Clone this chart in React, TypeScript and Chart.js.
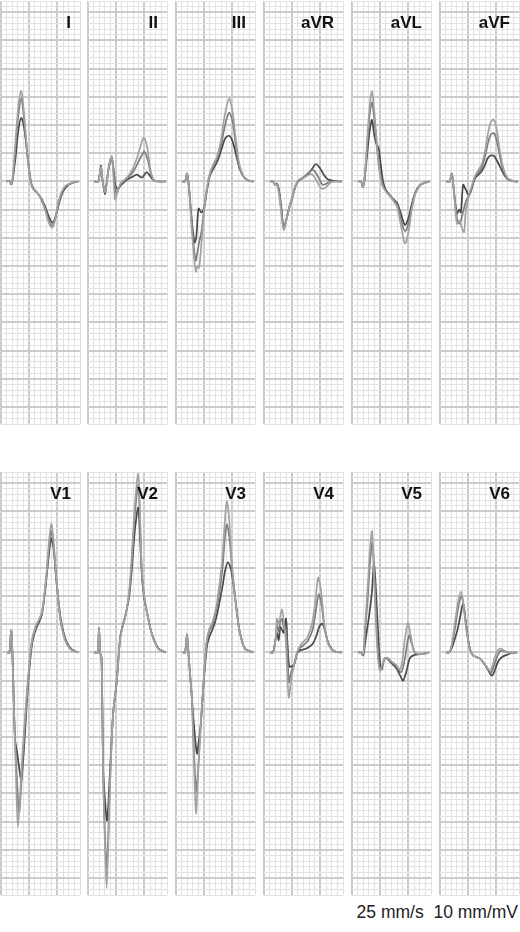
import { useEffect, useRef } from 'react'
import { Chart, registerables } from 'chart.js'

Chart.register(...registerables)

// values in mm of ECG paper: x 1 mm = 40 ms, y 1 mm = 0.1 mV (baseline = 0)
// each lead has three superimposed beats: light, mid, dark

const iLight = [[1.0,0],[1.5,0.1],[1.8,-0.4],[2.1,1],[2.6,7.5],[3.1,13.5],[3.6,16.1],[4.0,13],[4.5,7],[5.1,1],[5.6,-1.2],[6.4,-2],[7.0,-3],[7.8,-5],[8.5,-7.4],[9.1,-8.2],[9.6,-6.8],[10.1,-4],[10.7,-2],[11.4,-0.8],[12.5,-0.3],[13.7,0]]
const iMid = [[1.0,0],[1.5,0.1],[1.8,-0.4],[2.1,0.8],[2.6,6.5],[3.1,12],[3.6,14.7],[4.0,12],[4.5,6.5],[5.1,0.8],[5.6,-1.2],[6.4,-2],[7.0,-2.9],[7.8,-4.7],[8.5,-7],[9.1,-7.9],[9.6,-6.5],[10.2,-3.8],[10.8,-1.9],[11.5,-0.8],[12.5,-0.3],[13.7,0]]
const iDark = [[1.0,0],[1.5,0.1],[1.8,-0.5],[2.1,0.5],[2.6,4.5],[3.1,9.3],[3.6,11.3],[4.1,9.5],[4.7,4.5],[5.3,0],[5.7,-1.2],[6.4,-2],[7.0,-2.8],[7.8,-4.4],[8.5,-6.3],[9.1,-7.3],[9.7,-6.2],[10.3,-3.8],[10.9,-2],[11.6,-0.9],[12.5,-0.3],[13.7,0]]

const iiLight = [[1.1,0],[1.8,0],[2.1,1.5],[2.3,2.5],[2.6,0],[3.0,-1.8],[3.3,-0.5],[3.7,2.8],[4.2,4.5],[4.5,1],[4.8,-3.2],[5.2,-2],[5.7,-0.4],[6.9,0.7],[7.9,2.2],[8.7,4.2],[9.4,6.6],[9.9,7.8],[10.5,6],[11.0,2.5],[11.6,0.3],[12.5,0],[13.8,0]]
const iiMid = [[1.1,0],[1.8,0],[2.1,1.4],[2.3,2.6],[2.6,0],[3.0,-2],[3.3,-0.4],[3.7,2.6],[4.2,4.3],[4.6,0.8],[4.9,-2],[5.3,-1.6],[5.8,-0.5],[6.9,0.5],[7.9,1.6],[8.8,3.2],[9.5,4.6],[10.0,5.3],[10.6,3.8],[11.1,1.5],[11.7,0.2],[12.5,0],[13.8,0]]
const iiDark = [[1.1,0],[1.8,0],[2.1,1.4],[2.3,2.8],[2.6,0],[3.0,-2.2],[3.3,-0.3],[3.7,2.5],[4.2,4.2],[4.6,1.5],[4.9,-0.9],[5.3,-1.3],[5.8,-0.7],[6.9,0.3],[7.8,0.8],[8.7,1.2],[9.5,0.7],[10.4,1.6],[11.0,1.0],[11.7,0.1],[12.5,0],[13.8,0]]

const iiiLight = [[1.1,0],[1.6,0],[1.95,1.4],[2.3,-1],[2.9,-10],[3.5,-16],[3.8,-15],[4.1,-15.3],[4.5,-11],[5.0,-5],[5.5,-1],[6.0,1.5],[6.6,3],[7.3,4.5],[8.0,7.5],[8.6,11.5],[9.4,14.7],[10.0,12.5],[10.6,7.5],[11.2,3.2],[12.0,0.9],[13.0,0.1],[13.7,0]]
const iiiMid = [[1.1,0],[1.6,0],[1.95,1.4],[2.3,-1],[2.9,-9],[3.5,-14],[3.8,-12.5],[4.1,-10.8],[4.5,-9],[5.0,-4.8],[5.5,-1.2],[6.0,1.3],[6.6,2.6],[7.3,4],[8.0,6.5],[8.7,10],[9.4,12.2],[10.0,10.8],[10.6,6.5],[11.2,2.8],[12.0,0.9],[13.0,0.1],[13.7,0]]
const iiiDark = [[1.1,0],[1.6,0],[1.95,1.4],[2.3,-1],[2.8,-7],[3.3,-10.8],[3.6,-9.8],[4.0,-4.8],[4.5,-5.5],[5.0,-4.5],[5.5,-1.5],[6.0,1],[6.6,2.2],[7.3,3.5],[8.0,5.5],[8.7,7.6],[9.4,8.1],[10.0,7.2],[10.7,4.5],[11.3,2.2],[12.0,0.8],[13.0,0.1],[13.7,0]]

const avrLight = [[1.1,0],[1.6,0],[1.95,-0.6],[2.3,-0.6],[2.6,-1.8],[3.0,-5],[3.5,-8.6],[4.0,-6.8],[4.5,-4.6],[5.0,-2.8],[5.6,-0.6],[6.2,0.3],[6.9,0.6],[7.8,1.1],[8.5,1.3],[9.3,0.2],[9.8,-0.8],[10.4,-1.3],[11.0,-1],[11.9,-0.1],[12.8,0],[13.8,0]]
const avrMid = [[1.1,0],[1.6,0],[1.95,-0.6],[2.3,-0.5],[2.6,-1.5],[3.0,-4.5],[3.5,-8.4],[4.0,-6.6],[4.5,-4.5],[5.0,-2.8],[5.6,-0.7],[6.2,0.3],[6.9,0.7],[7.7,1.4],[8.5,2.0],[9.0,1.8],[9.7,0.6],[10.4,-0.6],[11.0,-0.4],[11.9,0],[13.8,0]]
const avrDark = [[1.1,0],[1.6,0],[1.95,-0.6],[2.3,-0.4],[2.6,-1.2],[3.0,-4],[3.5,-8.2],[4.0,-6.5],[4.5,-4.5],[5.0,-3],[5.6,-0.8],[6.2,0.2],[6.9,0.6],[7.7,1.2],[8.5,2.2],[9.2,3.1],[9.9,2.4],[10.6,1.2],[11.3,0.4],[12.3,0.1],[13.8,0]]

const avlLight = [[1.1,0],[1.6,0],[1.95,-1],[2.3,1.4],[2.8,9],[3.2,14],[3.55,16],[3.9,13],[4.2,9.6],[4.7,3],[5.3,-0.5],[6.0,-1.8],[6.7,-2.6],[7.4,-3.5],[8.0,-4.5],[8.7,-8],[9.4,-11],[10.0,-9],[10.6,-5],[11.2,-2.3],[12.0,-0.8],[12.9,-0.2],[13.7,0]]
const avlMid = [[1.1,0],[1.6,0],[1.95,-1],[2.3,1.2],[2.8,8],[3.2,12.5],[3.55,14],[3.9,11.5],[4.3,7.5],[4.7,3.5],[5.2,0.3],[5.7,-1.2],[6.3,-2],[7.0,-2.8],[7.7,-3.6],[8.3,-5],[8.9,-7.5],[9.4,-8.8],[10.0,-7.5],[10.6,-4.5],[11.2,-2.1],[12.0,-0.7],[12.9,-0.2],[13.7,0]]
const avlDark = [[1.1,0],[1.6,0],[1.95,-1],[2.3,1],[2.8,6],[3.2,9.5],[3.55,10.9],[3.9,8.5],[4.3,6.7],[4.7,6.0],[5.1,3],[5.5,0],[6.0,-1.5],[6.7,-2.4],[7.4,-3.2],[8.0,-3.8],[8.7,-5.8],[9.4,-7.7],[10.0,-6.5],[10.6,-4],[11.2,-2],[12.0,-0.7],[12.9,-0.2],[13.7,0]]

const avfLight = [[1.1,0],[1.7,0],[2.1,1.4],[2.5,-2],[3.0,-7.5],[3.5,-7],[3.8,-8],[4.25,-9],[4.6,-5],[5.15,-2.5],[5.7,-0.5],[6.2,1],[6.8,2],[7.45,3.2],[8.0,5.5],[8.5,8.5],[9.0,10.5],[9.5,11],[10.0,9.5],[10.6,5.5],[11.2,2.5],[12.0,0.6],[13.3,0],[13.8,0]]
const avfMid = [[1.1,0],[1.7,0],[2.1,1.4],[2.5,-2],[3.0,-6.5],[3.5,-7.5],[3.8,-6.5],[4.2,-5],[4.6,-3.5],[5.15,-2.5],[5.7,-0.8],[6.2,0.8],[6.8,1.6],[7.45,2.6],[8.0,4.5],[8.5,6.8],[9.0,8.3],[9.5,8.6],[10.0,7.5],[10.6,4.5],[11.2,2],[12.0,0.5],[13.3,0],[13.8,0]]
const avfDark = [[1.1,0],[1.7,0],[2.1,1.4],[2.5,-2],[3.0,-5.7],[3.4,-5],[3.7,-5.5],[4.1,-0.6],[4.6,-1.5],[5.15,-2.5],[5.7,-1],[6.2,0.5],[6.8,1.2],[7.45,1.9],[8.0,3],[8.5,4.2],[9.0,4.6],[9.6,4.5],[10.2,3.5],[10.7,2.5],[11.2,1.5],[12.0,0.4],[13.3,0],[13.8,0]]

const v1Light = [[1.1,0],[1.5,0],[1.8,3.9],[2.0,0.5],[2.3,-10],[2.5,-16.5],[2.8,-27],[3.0,-30.9],[3.3,-27],[3.8,-18],[4.3,-11],[4.8,-4.5],[5.5,2.3],[6.2,4.8],[6.8,6],[7.3,7.4],[8.0,13.3],[8.5,19.5],[8.9,22.8],[9.3,20],[9.8,13.2],[10.5,6],[11.1,3],[11.7,1.4],[12.5,0.4],[13.65,0]]
const v1Mid = [[1.1,0],[1.5,0],[1.8,3.9],[2.0,0.5],[2.3,-10],[2.5,-16],[2.9,-24],[3.2,-28.4],[3.5,-25],[3.9,-18],[4.3,-12],[4.8,-5],[5.5,2],[6.2,4.6],[6.8,5.8],[7.3,7.2],[8.0,13],[8.5,18.5],[8.9,21.5],[9.3,19.2],[9.8,13],[10.5,6],[11.1,3.2],[11.7,1.5],[12.5,0.5],[13.65,0]]
const v1Dark = [[1.1,0],[1.5,0],[1.8,3.9],[2.0,0.5],[2.3,-10],[2.5,-15.5],[2.9,-18],[3.3,-21],[3.6,-22.7],[3.9,-19.5],[4.3,-13.5],[4.8,-5.6],[5.5,1.5],[6.2,4.2],[6.8,5.5],[7.3,7],[8.0,12.7],[8.5,17.5],[8.9,20.2],[9.3,18.5],[9.8,13],[10.5,6.5],[11.1,3.5],[11.7,1.7],[12.5,0.6],[13.65,0]]

const v2Light = [[1.1,0],[1.7,0],[1.95,4.4],[2.15,0],[2.4,-1],[2.7,-22],[3.0,-34],[3.3,-41.8],[3.6,-34],[3.8,-26.8],[4.2,-15.5],[4.5,-10.3],[5.1,-5],[5.7,2.5],[6.2,4.8],[6.7,6.8],[7.3,11],[7.75,17],[8.3,26],[8.9,31.7],[9.2,25],[9.5,15.5],[9.9,10.5],[10.4,7.4],[11.0,4.5],[11.6,2.4],[12.5,0.6],[13.8,0]]
const v2Mid = [[1.1,0],[1.7,0],[1.95,4.4],[2.15,0],[2.4,-1],[2.7,-22],[3.0,-32],[3.3,-38.3],[3.6,-32],[3.9,-23],[4.2,-15.5],[4.5,-10.3],[5.1,-5],[5.7,2.5],[6.2,4.8],[6.7,6.8],[7.3,10.5],[7.75,16],[8.3,24.5],[8.9,29.6],[9.2,24],[9.5,15],[9.9,10.3],[10.4,7.4],[11.0,4.5],[11.6,2.4],[12.5,0.6],[13.8,0]]
const v2Dark = [[1.1,0],[1.7,0],[1.95,4.4],[2.15,0],[2.4,-1],[2.7,-21],[3.0,-26],[3.37,-29.8],[3.8,-23],[4.2,-15],[4.5,-10.3],[5.1,-5],[5.7,2.7],[6.2,5],[6.7,6.9],[7.3,10],[7.75,14.5],[8.3,21.6],[8.9,25.7],[9.2,21],[9.5,14.5],[9.9,10],[10.4,7.4],[11.0,4.5],[11.6,2.5],[12.5,0.7],[13.8,0]]

const v3Light = [[1.2,0],[1.6,0],[1.95,3.2],[2.2,0],[2.5,-4],[2.8,-7.9],[3.2,-20],[3.55,-28.5],[3.85,-23],[4.4,-12.6],[4.8,-6.7],[5.4,1.8],[5.9,4.2],[6.4,5.2],[6.9,7],[7.3,9],[8.2,16.5],[8.6,22.5],[9.0,26.8],[9.4,24],[9.9,16],[10.5,9.5],[11.0,5.5],[11.35,3.4],[12.2,0.7],[13.65,0]]
const v3Mid = [[1.2,0],[1.6,0],[1.95,3.2],[2.2,0],[2.5,-4],[2.8,-7.9],[3.2,-18],[3.6,-24.8],[3.9,-21],[4.4,-12.6],[4.8,-6.7],[5.4,1.5],[5.9,3.8],[6.4,4.8],[6.9,6.5],[7.3,8.2],[8.2,14.5],[8.6,19.5],[9.0,22.7],[9.5,20],[10.0,14],[10.5,9.5],[11.0,5.5],[11.35,3.4],[12.2,0.7],[13.65,0]]
const v3Dark = [[1.2,0],[1.6,0],[1.95,3.2],[2.2,0],[2.5,-4],[2.8,-7.9],[3.2,-13],[3.7,-17.9],[4.0,-16],[4.4,-12.6],[4.8,-6.7],[5.5,1.2],[6.0,3],[6.4,3.9],[6.9,5.3],[7.3,6.9],[8.2,11.5],[8.7,14.5],[9.2,16],[9.8,14.5],[10.5,9.5],[11.0,5.5],[11.35,3.4],[12.2,0.7],[13.65,0]]

const v4Light = [[1.1,0],[1.6,0],[2.1,2.7],[2.3,6],[2.6,5],[2.9,6.5],[3.2,7.6],[3.5,5.5],[3.8,3],[4.1,-3],[4.4,-8],[4.8,-5],[5.3,-2.3],[5.85,0],[6.4,1.2],[6.9,1.8],[7.7,2.7],[8.6,5.5],[9.2,10],[9.6,13.3],[10.1,11],[10.7,5],[11.3,1.8],[12.0,0.5],[12.8,0.1],[13.8,0]]
const v4Mid = [[1.1,0],[1.6,0],[2.1,2.7],[2.3,4.8],[2.6,3.8],[2.9,5.5],[3.2,6],[3.5,4.5],[3.9,4],[4.2,-1],[4.4,-5.3],[4.8,-3.5],[5.3,-2.3],[5.85,-0.1],[6.4,0.8],[6.9,1.2],[7.7,2],[8.6,4],[9.2,7.5],[9.7,10.3],[10.2,8.5],[10.7,4.5],[11.3,1.8],[12.0,0.5],[12.8,0.1],[13.8,0]]
const v4Dark = [[1.1,0],[1.6,0],[2.1,2.7],[2.3,3.5],[2.6,2.2],[2.9,4.5],[3.2,4],[3.5,3.5],[3.9,6],[4.2,1],[4.5,-2.5],[5.0,-2.4],[5.4,-2],[5.85,-0.2],[6.4,0.4],[6.9,0.5],[7.7,0.8],[8.6,1.5],[9.3,3],[9.8,4.6],[10.3,5.1],[10.8,4],[11.3,2],[12.0,0.6],[12.8,0.1],[13.8,0]]

const v5Light = [[1.1,0],[1.6,0],[2.0,-0.3],[2.3,4.4],[2.85,12.7],[3.2,18.5],[3.55,21.5],[3.9,14],[4.3,4],[4.7,-2],[5.0,-3.2],[5.3,-2.5],[5.85,-1],[6.4,-1],[6.9,-1.5],[7.8,-2.2],[8.5,-3],[8.9,-1.5],[9.4,2.5],[9.9,5.3],[10.4,3],[10.8,1],[11.2,0],[12.4,-0.3],[13.65,0]]
const v5Mid = [[1.1,0],[1.6,0],[2.0,-0.4],[2.3,3.5],[2.85,10.5],[3.2,16],[3.6,19.5],[4.0,13],[4.4,3.5],[4.8,-2.2],[5.1,-3.1],[5.4,-2.3],[5.85,-1],[6.4,-1.1],[6.9,-1.6],[7.8,-2.4],[8.7,-3.5],[9.3,-1.5],[10.1,3],[10.6,1.5],[11.2,-0.1],[12.4,-0.3],[13.65,0]]
const v5Dark = [[1.1,0],[1.6,0],[2.0,-0.5],[2.3,1.5],[2.65,3.9],[3.1,7],[3.55,11],[3.9,15.8],[4.3,10],[4.7,2],[5.0,-2],[5.3,-3],[5.6,-1.5],[5.85,-1],[6.4,-1.2],[6.9,-1.8],[7.8,-2.7],[8.5,-4],[9.04,-5],[9.6,-3.5],[10.3,-0.9],[11.2,-0.4],[12.05,-0.3],[13.65,0]]

const v6Light = [[1.1,0],[1.6,0],[2.1,1.5],[2.65,5.3],[3.2,9],[3.7,10.8],[4.1,9],[4.6,4.5],[5.0,2],[5.4,0.3],[5.85,-0.5],[6.5,-0.8],[7.1,-1.1],[7.7,-1.8],[8.3,-2.6],[8.9,-3.2],[9.4,-2],[9.9,-0.3],[10.6,0.7],[11.3,0.4],[12.0,0],[13.65,0]]
const v6Mid = [[1.1,0],[1.6,0],[2.1,1.2],[2.65,4.2],[3.2,7.8],[3.8,10],[4.2,8.2],[4.6,5],[5.0,2.1],[5.4,0.3],[5.85,-0.5],[6.5,-0.8],[7.1,-1.1],[7.7,-1.8],[8.3,-2.6],[9.0,-3.6],[9.5,-2.6],[10.1,-0.8],[10.7,0.3],[11.4,0.2],[12.2,0],[13.65,0]]
const v6Dark = [[1.1,0],[1.6,0],[2.1,0.8],[2.65,2.5],[3.1,4],[3.55,6.2],[4.1,8.7],[4.5,6],[5.0,2.2],[5.4,0.3],[5.85,-0.5],[6.5,-0.8],[7.1,-1.1],[7.7,-1.8],[8.3,-2.7],[8.8,-3.6],[9.2,-4.1],[9.7,-3.2],[10.3,-1.6],[11.0,-0.8],[11.9,-0.4],[12.8,-0.1],[13.65,0]]

const LEAD_NAMES = ['I', 'II', 'III', 'aVR', 'aVL', 'aVF', 'V1', 'V2', 'V3', 'V4', 'V5', 'V6']
const LEAD_TRACES = [
  [iLight, iMid, iDark],
  [iiLight, iiMid, iiDark],
  [iiiLight, iiiMid, iiiDark],
  [avrLight, avrMid, avrDark],
  [avlLight, avlMid, avlDark],
  [avfLight, avfMid, avfDark],
  [v1Light, v1Mid, v1Dark],
  [v2Light, v2Mid, v2Dark],
  [v3Light, v3Mid, v3Dark],
  [v4Light, v4Mid, v4Dark],
  [v5Light, v5Mid, v5Dark],
  [v6Light, v6Mid, v6Dark],
]

const TRACE_COLORS = ['#a2a2a2', '#7c7c7c', '#474747']
const COL_X = [1, 88, 176, 264, 352, 440]
const ROW_Y = [1, 472]
const W = 79
const H = 423
const FONT = '"Liberation Sans", Arial, Helvetica, sans-serif'

const gridColor = (ctx) => (ctx.tick && ctx.tick.value % 5 === 0 ? '#cbcbcb' : '#e2e2e2')
const gridWidth = (ctx) => (ctx.tick && ctx.tick.value % 5 === 0 ? 2 : 1)

function Lead({ name, traces, left, top }) {
  const ref = useRef(null)

  useEffect(() => {
    const chart = new Chart(ref.current, {
      type: 'line',
      data: {
        datasets: traces.map((d, i) => ({
          data: d,
          borderColor: TRACE_COLORS[i],
          borderWidth: 1.7,
          pointRadius: 0,
          tension: 0.3,
          fill: false,
        })),
      },
      options: {
        responsive: false,
        animation: false,
        events: [],
        layout: { padding: 1 },
        plugins: { legend: { display: false }, tooltip: { enabled: false } },
        scales: {
          x: {
            type: 'linear',
            min: 0,
            max: 14,
            ticks: { display: false, stepSize: 1 },
            grid: { color: gridColor, lineWidth: gridWidth, drawTicks: false },
            border: { display: false },
          },
          y: {
            min: -43,
            max: 32,
            ticks: { display: false, stepSize: 1 },
            grid: { color: gridColor, lineWidth: gridWidth, drawTicks: false },
            border: { display: false },
          },
        },
      },
    })
    return () => chart.destroy()
  }, [traces])

  return (
    <>
      <canvas
        ref={ref}
        width={W + 2}
        height={H + 2}
        style={{ position: 'absolute', left: left - 1, top: top - 1 }}
      />
      <div
        style={{
          position: 'absolute',
          left,
          top: top + 13,
          width: W - 9,
          textAlign: 'right',
          font: `bold 17px ${FONT}`,
          lineHeight: '17px',
          color: '#111',
        }}
      >
        {name}
      </div>
    </>
  )
}

export default function App() {
  return (
    <div
      style={{
        position: 'fixed',
        left: 0,
        top: 0,
        width: 520,
        height: 932,
        background: '#fff',
        overflow: 'hidden',
      }}
    >
      {LEAD_NAMES.map((name, i) => (
        <Lead
          key={name}
          name={name}
          traces={LEAD_TRACES[i]}
          left={COL_X[i % 6]}
          top={ROW_Y[Math.floor(i / 6)]}
        />
      ))}
      <div
        style={{
          position: 'absolute',
          right: 2,
          top: 902,
          font: `17.5px ${FONT}`,
          whiteSpace: 'pre',
          color: '#222',
        }}
      >
        {'25 mm/s  10 mm/mV'}
      </div>
    </div>
  )
}
